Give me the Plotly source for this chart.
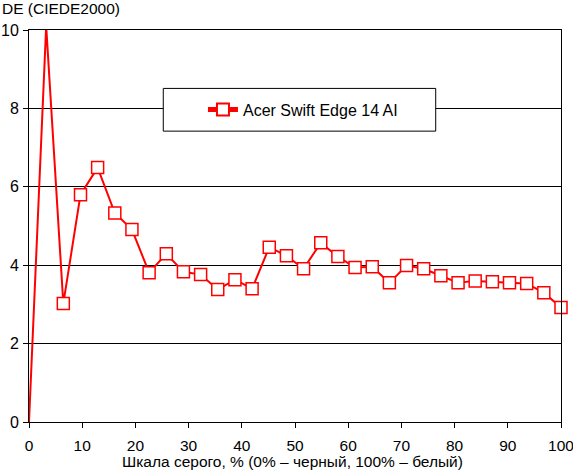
import plotly.graph_objects as go

gray_pct = [0, 3.23, 6.45, 9.68, 12.9, 16.13, 19.35, 22.58, 25.81, 29.03, 32.26,
            35.48, 38.71, 41.94, 45.16, 48.39, 51.61, 54.84, 58.06, 61.29, 64.52,
            67.74, 70.97, 74.19, 77.42, 80.65, 83.87, 87.1, 90.32, 93.55, 96.77, 100]
de_values = [0.0, 10.1, 3.02, 5.80, 6.49, 5.33, 4.91, 3.81, 4.29, 3.83, 3.76,
             3.38, 3.63, 3.40, 4.46, 4.24, 3.91, 4.57, 4.22, 3.94, 3.96,
             3.55, 3.99, 3.91, 3.73, 3.55, 3.60, 3.58, 3.55, 3.53, 3.30, 2.92]
marker_sizes = [0, 0] + [12] * (len(gray_pct) - 2)
series_name = "Acer Swift Edge 14 AI"
x_ticks = [0, 10, 20, 30, 40, 50, 60, 70, 80, 90, 100]
y_ticks = [0, 2, 4, 6, 8, 10]

FONT = "Liberation Sans, Arial, sans-serif"

fig = go.Figure()
fig.add_trace(go.Scatter(
    x=gray_pct, y=de_values, mode="lines+markers", name=series_name,
    line=dict(color="#ff0000", width=2),
    marker=dict(symbol="square", size=marker_sizes, color="white", opacity=1,
                line=dict(color="#ff0000", width=1.5)),
    cliponaxis=False,
))

fig.update_layout(
    width=573, height=472,
    margin=dict(l=29, r=12, t=30, b=50, autoexpand=False),
    paper_bgcolor="white", plot_bgcolor="white",
    font=dict(family=FONT, size=16, color="black"),
    showlegend=True,
    legend=dict(x=0.327, y=0.797, xanchor="left", yanchor="middle",
                bgcolor="rgba(0,0,0,0)", borderwidth=0,
                font=dict(family=FONT, size=16, color="black"),
                itemsizing="constant"),
    xaxis=dict(range=[0, 100], tickvals=x_ticks, showgrid=False, automargin=False,
               showline=True, linecolor="black", linewidth=1, mirror=True,
               ticks="outside", ticklen=5, tickcolor="black", zeroline=False,
               ticklabeloverflow="allow", ticklabelstandoff=4,
               tickfont=dict(size=15.5)),
    yaxis=dict(range=[0, 10], tickvals=y_ticks, showgrid=True, automargin=False,
               gridcolor="black", gridwidth=1,
               showline=True, linecolor="black", linewidth=1, mirror=True,
               ticks="outside", ticklen=5, tickcolor="black", zeroline=False,
               ticklabeloverflow="allow", ticklabelstandoff=1,
               tickfont=dict(size=16)),
    shapes=[dict(type="rect", xref="paper", yref="paper",
                 x0=0.2524, x1=0.7645, y0=0.742, y1=0.851,
                 line=dict(color="black", width=1), fillcolor="white",
                 layer="above")],
    annotations=[
        dict(text="DE (CIEDE2000)", xref="paper", yref="paper",
             x=-0.0545, y=1.056, xanchor="left", yanchor="middle",
             showarrow=False, font=dict(family=FONT, size=15.5)),
        dict(text="Шкала серого, % (0% – черный, 100% – белый)", xref="paper",
             yref="paper", x=0.496, y=-0.1, xanchor="center", yanchor="middle",
             showarrow=False, font=dict(family=FONT, size=15.5)),
    ],
)

fig.write_html("out.html", config={"displayModeBar": False},
               post_script="document.body.style.margin='0';document.body.style.padding='0';")
